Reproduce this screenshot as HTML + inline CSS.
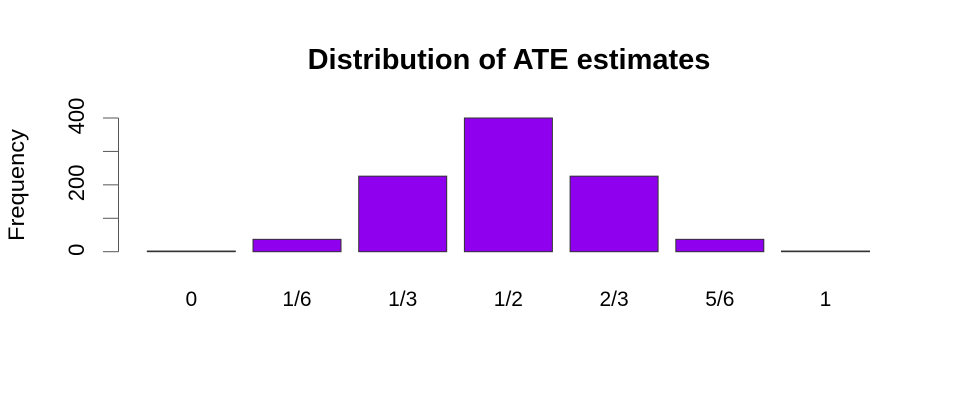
<!DOCTYPE html>
<html><head><meta charset="utf-8"><style>
html,body{margin:0;padding:0;background:#fff;}
svg{display:block;font-family:"Liberation Sans",Arial,sans-serif;}
</style></head><body>
<svg id="chart" width="960" height="400">
<text x="509" y="69" text-anchor="middle" font-size="29" font-weight="bold">Distribution of ATE estimates</text>
<text transform="translate(24,185) rotate(-90)" text-anchor="middle" font-size="22" textLength="112" lengthAdjust="spacingAndGlyphs">Frequency</text>
<g id="yaxis"></g>
<g id="bars"></g>
<g id="xlabels"></g>
</svg>
<script>
const categories = ["0","1/6","1/3","1/2","2/3","5/6","1"];
const frequencies = [2, 37, 226, 400, 226, 37, 2];
const yTicks = [0, 100, 200, 300, 400];
const yTickLabels = ["0", "200", "400"];
const yLabelValues = [0, 200, 400];

const NS = "http://www.w3.org/2000/svg";
const y0 = 251.7, y400 = 118;
function yScale(v){ return y0 - (v/400)*(y0-y400); }
function xLeft(i){ return 147.3 + i*105.7; }
const barW = 88;

const yaxis = document.getElementById('yaxis');
const axisLine = document.createElementNS(NS,'line');
axisLine.setAttribute('x1',118.5);axisLine.setAttribute('x2',118.5);
axisLine.setAttribute('y1',yScale(yTicks[0]));axisLine.setAttribute('y2',yScale(yTicks[yTicks.length-1]));
axisLine.setAttribute('stroke','#555');


yaxis.appendChild(axisLine);
yTicks.forEach(t=>{
  const l = document.createElementNS(NS,'line');
  l.setAttribute('x1',103);l.setAttribute('x2',118.5);
  l.setAttribute('y1',yScale(t));l.setAttribute('y2',yScale(t));
  l.setAttribute('stroke','#555');
  
  
  yaxis.appendChild(l);
});
yLabelValues.forEach((v,i)=>{
  const tx = document.createElementNS(NS,'text');
  tx.setAttribute('transform','translate(84,'+(yScale(v)-2)+') rotate(-90)');
  tx.setAttribute('text-anchor','middle');
  tx.setAttribute('font-size','22');
  tx.textContent = yTickLabels[i];
  
  
  yaxis.appendChild(tx);
});

const bars = document.getElementById('bars');
const xl = document.getElementById('xlabels');
categories.forEach((c,i)=>{
  const top = yScale(frequencies[i]);
  const r = document.createElementNS(NS,'rect');
  r.setAttribute('x',xLeft(i));r.setAttribute('y',top);
  r.setAttribute('width',barW);r.setAttribute('height',Math.max(0,y0-top));
  r.setAttribute('fill','#8e00ee');r.setAttribute('stroke','#333');r.setAttribute('stroke-width','1');
  
  
  bars.appendChild(r);
  const tx = document.createElementNS(NS,'text');
  tx.setAttribute('x',xLeft(i)+barW/2);tx.setAttribute('y',306);
  tx.setAttribute('text-anchor','middle');tx.setAttribute('font-size','21');
  tx.textContent = c;
  
  
  xl.appendChild(tx);
});
</script>
</body></html>
